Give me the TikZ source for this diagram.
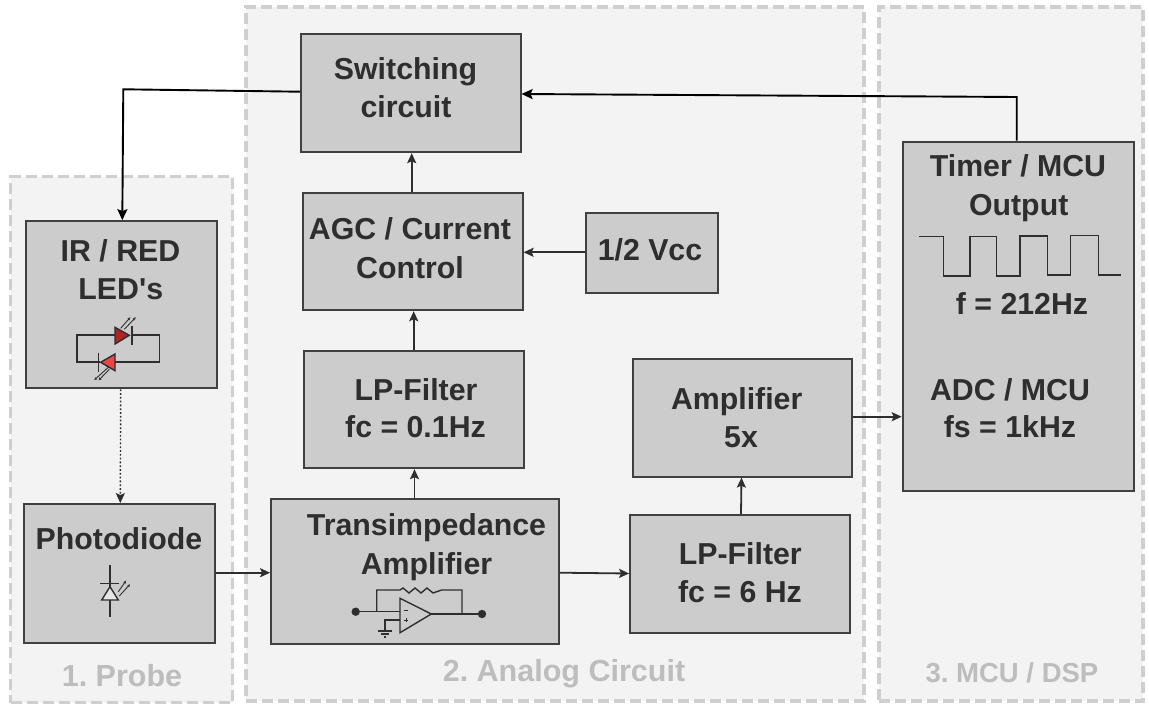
\documentclass[tikz,border=0pt]{standalone}
\usepackage{fontspec}
\setmainfont{Liberation Sans}[Ligatures=TeXOff]
\usetikzlibrary{arrows.meta}
\definecolor{boxfill}{HTML}{CCCCCC}
\definecolor{ink}{HTML}{2E2E2E}
\definecolor{edge}{HTML}{404040}
\definecolor{regionc}{HTML}{CFCFCF}
\definecolor{regiontext}{HTML}{BDBDBD}
\definecolor{regionfill}{HTML}{F3F3F3}
\definecolor{ledA}{HTML}{B22222}
\definecolor{ledB}{HTML}{F04545}
\tikzset{
 x=1pt,y=-1pt,
 blockbox/.style={draw=edge,line width=1.8pt,fill=boxfill,inner sep=0pt},
 region/.style={draw=regionc,line width=3.4pt,dash pattern=on 11pt off 5pt,fill=regionfill,inner sep=0pt},
 regionlabel/.style={text=regiontext,font=\frenchspacing\fontsize{30.5}{34}\selectfont\bfseries,inner sep=0pt,anchor=base},
 label/.style={text=ink,font=\frenchspacing\fontsize{30.3}{34}\selectfont\bfseries,inner sep=0pt,anchor=base},
 conn/.style={draw=ink,line width=1.8pt,-{Stealth[length=10pt,width=9pt,inset=2pt]}},
 connb/.style={draw=black,line width=1.9pt,-{Stealth[length=11pt,width=10pt,inset=2pt]}},
 sym/.style={draw=ink,line width=1.4pt},
 symthin/.style={draw=ink,line width=.9pt,-{Stealth[length=3pt,width=3pt]}},
}
\begin{document}
\begin{tikzpicture}
\useasboundingbox (0,0) rectangle (1149,704);
\fill[white] (0,0) rectangle (1149,704);
% regions
\node[region,minimum width=222,minimum height=526] (probe) at (121.5,439.7) {};
\node[region,minimum width=618,minimum height=694] (analog) at (555,354) {};
\node[region,minimum width=264,minimum height=694] (mcu) at (1011,354) {};
\node[regionlabel] (probel) at (122,686.7) {1. Probe};
\node[regionlabel] (analogl) at (564,681) {2. Analog Circuit};
\node[regionlabel,font=\frenchspacing\fontsize{27.5}{34}\selectfont\bfseries] (mcul) at (1012,682) {3. MCU / DSP};
% blocks
\node[blockbox,minimum width=220,minimum height=118] (sw) at (410.7,93.3) {};
\node[label] (swt) at (405.5,79.3) {Switching};
\node[label] (swt2) at (406,117.7) {circuit};
\node[blockbox,minimum width=220,minimum height=117.6] (agc) at (412.7,251.5) {};
\node[label] (agct) at (410,239.3) {AGC / Current};
\node[label] (agct2) at (410,278.3) {Control};
\node[blockbox,line width=1.2pt,minimum width=132,minimum height=80] (vcc) at (652,253) {};
\node[label] (vcct) at (650,260.5) {1/2 Vcc};
\node[blockbox,minimum width=220,minimum height=117.6] (lp1) at (414.2,409.5) {};
\node[label] (lp1t) at (416,400) {LP-Filter};
\node[label] (lp1t2) at (415.5,437.7) {fc = 0.1Hz};
\node[blockbox,minimum width=219.6,minimum height=118] (amp) at (742.5,417.7) {};
\node[label] (ampt) at (736.7,409.3) {Amplifier};
\node[label] (ampt2) at (741,447.7) {5x};
\node[blockbox,minimum width=288,minimum height=144.7] (tia) at (415,571.7) {};
\node[label] (tiat) at (426.5,535.7) {Transimpedance};
\node[label] (tiat2) at (426.5,574) {Amplifier};
\node[blockbox,minimum width=220,minimum height=118] (lp2) at (740,574) {};
\node[label] (lp2t) at (740.3,564) {LP-Filter};
\node[label] (lp2t2) at (740,602.7) {fc = 6 Hz};
\node[blockbox,minimum width=191,minimum height=167.3] (ir) at (121.5,304.7) {};
\node[label] (irt) at (120.5,261.7) {IR / RED};
\node[label] (irt2) at (120.8,299.3) {LED's};
\node[blockbox,minimum width=191.3,minimum height=138.7] (pd) at (119.3,573.3) {};
\node[label] (pdt) at (119,549.3) {Photodiode};
\node[blockbox,line width=2.6pt,minimum width=231,minimum height=349] (timer) at (1018.5,316.5) {};
\node[label] (timt) at (1018,176.7) {Timer / MCU};
\node[label] (timt2) at (1018.7,215) {Output};
\node[label] (timt3) at (1022,314.3) {f = 212Hz};
\node[label] (timt4) at (1010,400) {ADC / MCU};
\node[label] (timt5) at (1010,437) {fs = 1kHz};
% connectors
\draw[connb] (1016.7,0 |- timer.north) -- (1016.7,97) -- (sw.east |- 0,94);
\draw[connb] (sw.west |- 0,91.7) -- (123.3,89.3) -- (122.3,0 |- ir.north);
\draw[conn] (411.7,0 |- agc.north) -- (411.7,0 |- sw.south);
\draw[conn] (vcc.west |- 0,252.3) -- (agc.east |- 0,252.3);
\draw[conn] (413.7,0 |- lp1.north) -- (413.7,0 |- agc.south);
\draw[conn] (414.5,0 |- tia.north) -- (414.5,0 |- lp1.south);
\draw[conn] (pd.east |- 0,572.7) -- (tia.west |- 0,572.7);
\draw[conn] (tia.east |- 0,572.7) -- (lp2.west |- 0,573.5);
\draw[conn] (741,0 |- lp2.north) -- (741.5,0 |- amp.south);
\draw[conn] (amp.east |- 0,416.7) -- (timer.west |- 0,416.7);
\draw[conn,dotted,line width=1.4pt] (120.7,0 |- ir.south) -- (120.3,0 |- pd.north);
% waveform
\draw[sym] (919,236.7) -- (943.3,236.7) -- (943.3,276) -- (970,276) -- (970,236.5) -- (996.7,236.5) -- (996.7,276) -- (1020,276) -- (1020,236) -- (1047.3,236) -- (1047.3,275) -- (1070.7,275) -- (1070.7,235.5) -- (1098.3,235.5) -- (1098.3,275) -- (1121,275);
% LEDs
\draw[sym] (115,335) -- (77,335) -- (77,362) -- (100,362);
\draw[sym] (132,335) -- (159.7,335) -- (159.7,362) -- (115,362);
\draw[sym,fill=ledA] (115,327.3) -- (115,344) -- (129.3,335.3) -- cycle;
\draw[sym] (132,326) -- (132,344.7);
\draw[sym,fill=ledB] (115,354) -- (115,370.7) -- (100.7,362.3) -- cycle;
\draw[sym] (98.3,352.7) -- (98.3,371.7);
\draw[symthin] (120.7,328.3) -- (130.3,317.3);
\draw[symthin] (124.3,329.3) -- (135.7,317.3);
\draw[symthin] (108.3,367.3) -- (94.3,380);
\draw[symthin] (109.3,369.3) -- (98.7,380.3);
% photodiode
\draw[sym] (110,565.3) -- (110,586.7);
\draw[sym] (110,600) -- (110,616.7);
\draw[sym] (100,583.3) -- (119.3,583.3);
\draw[sym,fill=boxfill!50!white] (110,586.7) -- (101.7,600) -- (118.3,600) -- cycle;
\draw[symthin] (118.3,591.7) -- (126,580.7);
\draw[symthin] (119.3,596) -- (130,584.3);
% op-amp
\draw[sym] (355.7,611.7) -- (400,611.7);
\draw[sym] (376.7,611.7) -- (376.7,590) -- (400,590) -- (403,588) -- (409,593) -- (415,588) -- (421,593) -- (427,588) -- (433,593) -- (441.7,590) -- (462,590) -- (462,614);
\draw[sym] (431.3,614) -- (482,614);
\draw[sym,fill=boxfill] (400,598.3) -- (431.3,614) -- (400,632.7) -- cycle;
\draw[sym] (400,620) -- (385,620) -- (385,630);
\draw[sym] (378,631) -- (392,631);
\draw[sym] (381,634) -- (389,634);
\draw[sym] (384,637) -- (386,637);
\draw[draw=ink,line width=.9pt] (404,610.5) -- (408,610.5);
\draw[draw=ink,line width=.9pt] (404,620) -- (408,620) (406,618) -- (406,622);
\fill[ink] (355.7,611.7) circle (4.2pt) (482,614) circle (4.2pt);
\end{tikzpicture}
\end{document}
